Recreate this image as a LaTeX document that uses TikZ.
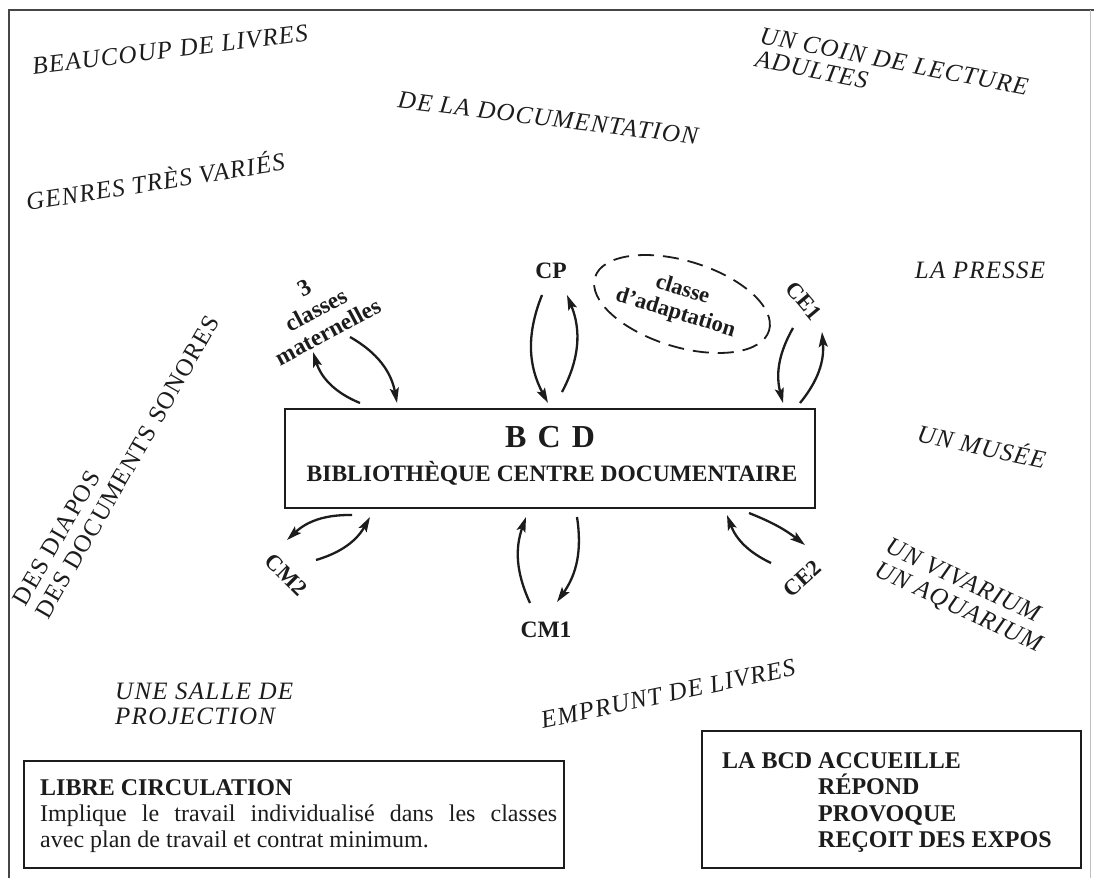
\documentclass[tikz,border=0pt]{standalone}
\usepackage{fontspec}
\setmainfont{Liberation Serif}
\newfontfamily\spaced{Liberation Serif}[LetterSpace=5]
\usetikzlibrary{arrows.meta,shapes.geometric}
\definecolor{ink}{RGB}{28,28,28}
\definecolor{frame}{RGB}{70,70,70}
\begin{document}
\begin{tikzpicture}[x=1pt,y=1pt,
  ital/.style={font={\spaced\itshape\fontsize{25}{26}\selectfont}, text=ink, inner sep=0pt},
  rom/.style={font={\spaced\fontsize{24.5}{26}\selectfont}, text=ink, inner sep=0pt},
  lab/.style={font={\bfseries\fontsize{23.5}{24.5}\selectfont}, text=ink, inner sep=0pt},
  flow/.style={draw=ink, line width=2.3pt, -{Stealth[length=15pt,width=9pt,inset=3pt]}},
  boxed/.style={draw=ink, line width=2pt, inner sep=0pt}]
\useasboundingbox (0,0) rectangle (1094,-878);
\fill[white] (0,0) rectangle (1094,-878);
% outer frame
\draw[frame, line width=2.4pt] (9,-878) -- (9,-10) -- (1094,-10);
\draw[black!25, line width=1pt] (1090,-10) -- (1090,-878);

% floating labels
\node[ital, rotate=7] (livres) at (170,-50) {BEAUCOUP DE LIVRES};
\node[ital, rotate=-7] (docu) at (548,-118) {DE LA DOCUMENTATION};
\node[ital, rotate=9] (genres) at (155,-180) {GENRES TRÈS VARIÉS};
\node[ital, rotate=-11, anchor=west, align=left, font={\spaced\itshape\fontsize{25}{24}\selectfont}] (coin) at (758,-47) {UN COIN DE LECTURE\\ADULTES};
\node[ital] (presse) at (980,-270) {LA PRESSE};
\node[ital, rotate=-12] (musee) at (982,-445) {UN MUSÉE};
\node[ital, rotate=-25, anchor=west, align=left] (vivar) at (881,-558) {UN VIVARIUM\\UN AQUARIUM};
\node[ital, rotate=12] (emprunt) at (668,-694) {EMPRUNT DE LIVRES};
\node[ital, anchor=west, align=left, font={\spaced\itshape\fontsize{25}{25}\selectfont}] (salle) at (115,-704) {UNE SALLE DE\\PROJECTION};
\node[rom, rotate=60, anchor=west, align=left] (diapos) at (30,-610) {DES DIAPOS\\DES DOCUMENTS SONORES};

% central box
\node[boxed, minimum width=530, minimum height=99] (bcd) at (550,-458.5) {};
\node[inner sep=0pt, text=ink, font={\bfseries\fontsize{32}{34}\selectfont}] (bcdt) at (550,-437) {B\hspace{0.35em}C\hspace{0.35em}D};
\node[inner sep=0pt, text=ink, font={\bfseries\fontsize{23.5}{26}\selectfont}] (bcds) at (552,-473) {BIBLIOTHÈQUE CENTRE DOCUMENTAIRE};

% class labels
\node[lab, rotate=28, align=center, font={\bfseries\fontsize{23.5}{25}\selectfont}] (mat) at (316,-310) {3\\classes\\maternelles};
\node[lab] (cp) at (551,-271) {CP};
\node[draw=ink, dash pattern=on 16pt off 9pt, line width=1.8pt, ellipse, minimum width=182, minimum height=86, inner sep=0pt, rotate=-17] (ell) at (682,-304) {};
\node[lab, rotate=-17, align=center, font={\bfseries\fontsize{22.5}{24}\selectfont}] (adapt) at (679,-302) {classe\\d’adaptation};
\node[lab, rotate=-50, font={\bfseries\fontsize{22.5}{24}\selectfont}] (ce1) at (804,-301) {CE1};
\node[lab, rotate=-45, font={\bfseries\fontsize{22.5}{24}\selectfont}] (cm2) at (286,-575) {CM2};
\node[lab] (cm1) at (546,-630) {CM1};
\node[lab, rotate=42, font={\bfseries\fontsize{22.5}{24}\selectfont}] (ce2) at (802,-579) {CE2};

% arrow end points
\coordinate (m1a) at (360,-403); \coordinate (m1b) at (313,-352);
\coordinate (m2a) at (350,-337); \coordinate (m2b) at (397,-403);
\coordinate (c1a) at (542,-295); \coordinate (c1b) at (548,-403);
\coordinate (c2a) at (562,-392); \coordinate (c2b) at (567,-295);
\coordinate (e1a) at (793,-328); \coordinate (e1b) at (783,-403);
\coordinate (e2a) at (800,-403); \coordinate (e2b) at (822,-332);
\coordinate (k1a) at (352,-515); \coordinate (k1b) at (287,-540);
\coordinate (k2a) at (316,-560); \coordinate (k2b) at (370,-517);
\coordinate (n1a) at (530,-603); \coordinate (n1b) at (526,-517);
\coordinate (n2a) at (577,-517); \coordinate (n2b) at (557,-602);
\coordinate (f1a) at (771,-563); \coordinate (f1b) at (727,-515);
\coordinate (f2a) at (749,-513); \coordinate (f2b) at (805,-545);

\draw[flow] (m1a) to[bend left=25] (m1b);
\draw[flow] (m2a) to[bend left=25] (m2b);
\draw[flow] (c1a) to[bend right=25] (c1b);
\draw[flow] (c2a) to[bend right=25] (c2b);
\draw[flow] (e1a) to[bend right=22] (e1b);
\draw[flow] (e2a) to[bend right=22] (e2b);
\draw[flow] (k1a) to[bend right=22] (k1b);
\draw[flow] (k2a) to[bend right=22] (k2b);
\draw[flow] (n1a) to[bend left=22] (n1b);
\draw[flow] (n2a) to[bend left=22] (n2b);
\draw[flow] (f1a) to[bend left=22] (f1b);
\draw[flow] (f2a) to[bend left=8] (f2b);

% bottom boxes
\node[boxed, anchor=north west, minimum width=540, minimum height=107] (libre) at (23,-760) {};
\node[inner sep=0pt, anchor=north west, text width=517, align=justify, text=ink, font={\fontsize{24}{26}\selectfont}] (libret) at (40,-779)
  {\textbf{LIBRE CIRCULATION}\\Implique le travail individualisé dans les classes\linebreak avec plan de travail et contrat minimum.};
\node[boxed, anchor=north west, minimum width=379, minimum height=137] (acc) at (701,-730) {};
\node[inner sep=0pt, anchor=north west, align=left, text=ink, font={\bfseries\fontsize{24}{26.5}\selectfont}] (acct) at (722,-752)
  {LA BCD ACCUEILLE\\\hphantom{LA BCD\ }RÉPOND\\\hphantom{LA BCD\ }PROVOQUE\\\hphantom{LA BCD\ }REÇOIT DES EXPOS};
\end{tikzpicture}
\end{document}
